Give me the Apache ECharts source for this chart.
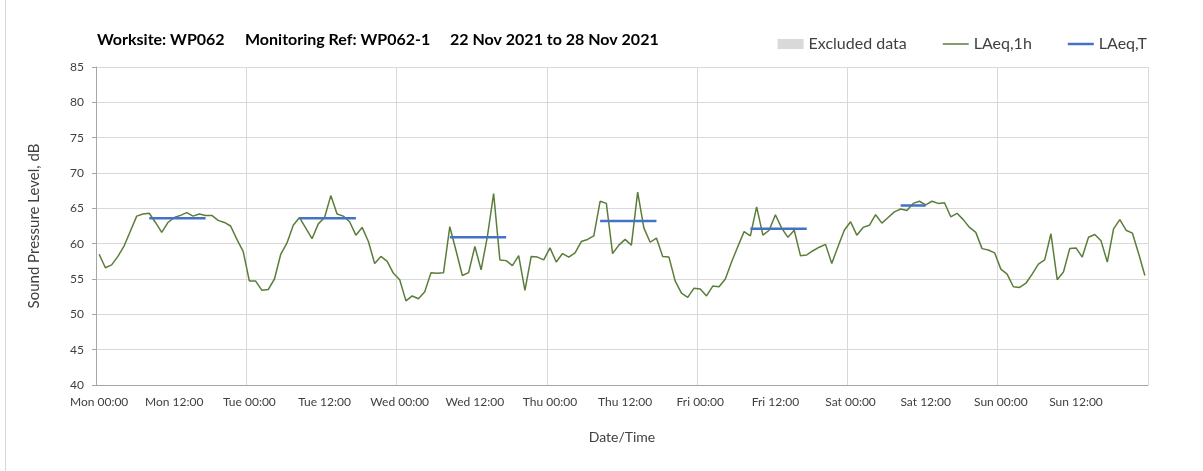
<!DOCTYPE html>
<html>
<head>
<meta charset="utf-8">
<style>
  html, body { margin: 0; padding: 0; background: #fff; }
  #chart { width: 1203px; height: 471px; }
</style>
<script src="https://cdn.jsdelivr.net/npm/echarts@6/dist/echarts.min.js"></script>
</head>
<body>
<div id="chart"></div>
<script>
// axis categories: one per hour over the week
const days = ['Mon', 'Tue', 'Wed', 'Thu', 'Fri', 'Sat', 'Sun']
const hours = Array.from({ length: 24 }, (_, h) => String(h).padStart(2, '0') + ':00')

// LAeq,1h per hour (dB)
const monLevels = [58.5, 56.6, 57.0, 58.2, 59.7, 61.8, 63.9, 64.2, 64.3, 63.0, 61.6, 63.0, 63.7, 64.0, 64.4, 63.9, 64.2, 64.0, 64.0, 63.3, 63.0, 62.5, 60.6, 58.9]
const tueLevels = [54.7, 54.7, 53.4, 53.5, 55.0, 58.5, 60.1, 62.6, 63.7, 62.2, 60.7, 62.8, 63.7, 66.8, 64.2, 63.9, 63.1, 61.2, 62.3, 60.3, 57.2, 58.2, 57.5, 55.8]
const wedLevels = [54.9, 51.9, 52.6, 52.2, 53.2, 55.9, 55.8, 55.9, 62.4, 59.0, 55.5, 55.9, 59.6, 56.3, 61.0, 67.1, 57.7, 57.6, 56.9, 58.3, 53.4, 58.2, 58.1, 57.7]
const thuLevels = [59.4, 57.4, 58.6, 58.1, 58.7, 60.3, 60.6, 61.1, 66.0, 65.7, 58.6, 59.8, 60.6, 59.8, 67.3, 62.2, 60.2, 60.8, 58.2, 58.1, 54.7, 53.0, 52.4, 53.7]
const friLevels = [53.6, 52.6, 54.0, 53.9, 55.0, 57.4, 59.6, 61.7, 61.1, 65.2, 61.2, 61.9, 64.1, 62.2, 60.9, 61.9, 58.3, 58.4, 59.0, 59.5, 59.9, 57.2, 59.6, 61.9]
const satLevels = [63.1, 61.2, 62.3, 62.6, 64.1, 62.9, 63.7, 64.5, 64.9, 64.7, 65.7, 66.0, 65.5, 66.0, 65.7, 65.8, 63.8, 64.3, 63.4, 62.3, 61.6, 59.3, 59.1, 58.7]
const sunLevels = [56.4, 55.7, 53.9, 53.8, 54.4, 55.7, 57.1, 57.7, 61.4, 54.9, 56.0, 59.3, 59.4, 58.1, 60.9, 61.3, 60.4, 57.4, 62.1, 63.4, 61.9, 61.5, 58.6, 55.5]

// LAeq,T over the working periods
const periodDay = [0, 1, 2, 3, 4, 5]
const periodStart = [8, 8, 8, 8, 8, 8]
const periodEnd = [17, 17, 17, 17, 17, 12]
const periodLevel = [63.6, 63.6, 60.9, 63.2, 62.1, 65.4]

const yTicks = { min: 40, max: 85, step: 5 }

// header parts
const titleParts = ['Worksite: WP062', 'Monitoring Ref: WP062-1', '22 Nov 2021 to 28 Nov 2021']
const titleLeft = [97, 245, 450]

const categories = days.flatMap(d => hours.map(h => d + ' ' + h))
const hourly = [].concat(monLevels, tueLevels, wedLevels, thuLevels, friLevels, satLevels, sunLevels)

// sparse series, one flat segment per period
const periodSeries = categories.map(() => null)
periodDay.forEach((d, i) => {
  for (let h = periodStart[i]; h <= periodEnd[i]; h++) {
    periodSeries[d * 24 + h] = periodLevel[i]
  }
})

const font = 'Lato, "Open Sans", sans-serif'
const axisGrey = '#a6a6a6'
const gridGrey = '#d9d9d9'
const textGrey = '#404040'
const green = '#5a7d3a'
const blue = '#4472c4'

const chart = echarts.init(document.getElementById('chart'))
chart.setOption({
  animation: false,
  textStyle: { fontFamily: font },
  title: titleParts.map((t, i) => ({
    text: t,
    left: titleLeft[i],
    top: 32,
    padding: 0,
    textStyle: { fontSize: 16, fontWeight: 'bold', color: '#000', fontFamily: font }
  })),
  legend: {
    right: 51,
    top: 31,
    itemGap: 36,
    itemWidth: 26,
    itemHeight: 10,
    textStyle: { fontSize: 16, color: textGrey, fontFamily: font },
    data: [
      { name: 'Excluded data', icon: 'rect' },
      { name: 'LAeq,1h', icon: 'path://M0,0H26V1.5H0Z' },
      { name: 'LAeq,T', icon: 'path://M0,0H26V2.5H0Z' }
    ]
  },
  graphic: [
    {
      type: 'line',
      shape: { x1: 5.5, y1: 0, x2: 5.5, y2: 471 },
      style: { stroke: gridGrey, lineWidth: 1 }
    }
  ],
  grid: { left: 96, right: 55, top: 67, bottom: 86 },
  xAxis: {
    type: 'category',
    data: categories,
    boundaryGap: true,
    name: 'Date/Time',
    nameLocation: 'middle',
    nameGap: 45,
    nameTextStyle: { fontSize: 14, color: textGrey },
    axisLine: { lineStyle: { color: axisGrey } },
    axisTick: { interval: 11, length: 4, lineStyle: { color: axisGrey } },
    axisLabel: { interval: 11, margin: 11, fontSize: 12, color: textGrey },
    splitLine: { show: true, interval: 23, lineStyle: { color: gridGrey } }
  },
  yAxis: {
    type: 'value',
    min: yTicks.min,
    max: yTicks.max,
    interval: yTicks.step,
    name: 'Sound Pressure Level, dB',
    nameLocation: 'middle',
    nameGap: 54,
    nameTextStyle: { fontSize: 15, color: textGrey },
    axisLine: { show: true, lineStyle: { color: axisGrey } },
    axisTick: { show: true, length: 4, lineStyle: { color: axisGrey } },
    axisLabel: { margin: 12, fontSize: 12, color: textGrey },
    splitLine: { lineStyle: { color: gridGrey } }
  },
  series: [
    {
      name: 'Excluded data',
      type: 'bar',
      data: [],
      itemStyle: { color: gridGrey }
    },
    {
      name: 'LAeq,1h',
      type: 'line',
      data: hourly,
      symbol: 'none',
      lineStyle: { color: green, width: 1.5 },
      itemStyle: { color: green }
    },
    {
      name: 'LAeq,T',
      type: 'line',
      data: periodSeries,
      symbol: 'none',
      connectNulls: false,
      lineStyle: { color: blue, width: 2.5 },
      itemStyle: { color: blue }
    }
  ]
})
</script>
</body>
</html>
